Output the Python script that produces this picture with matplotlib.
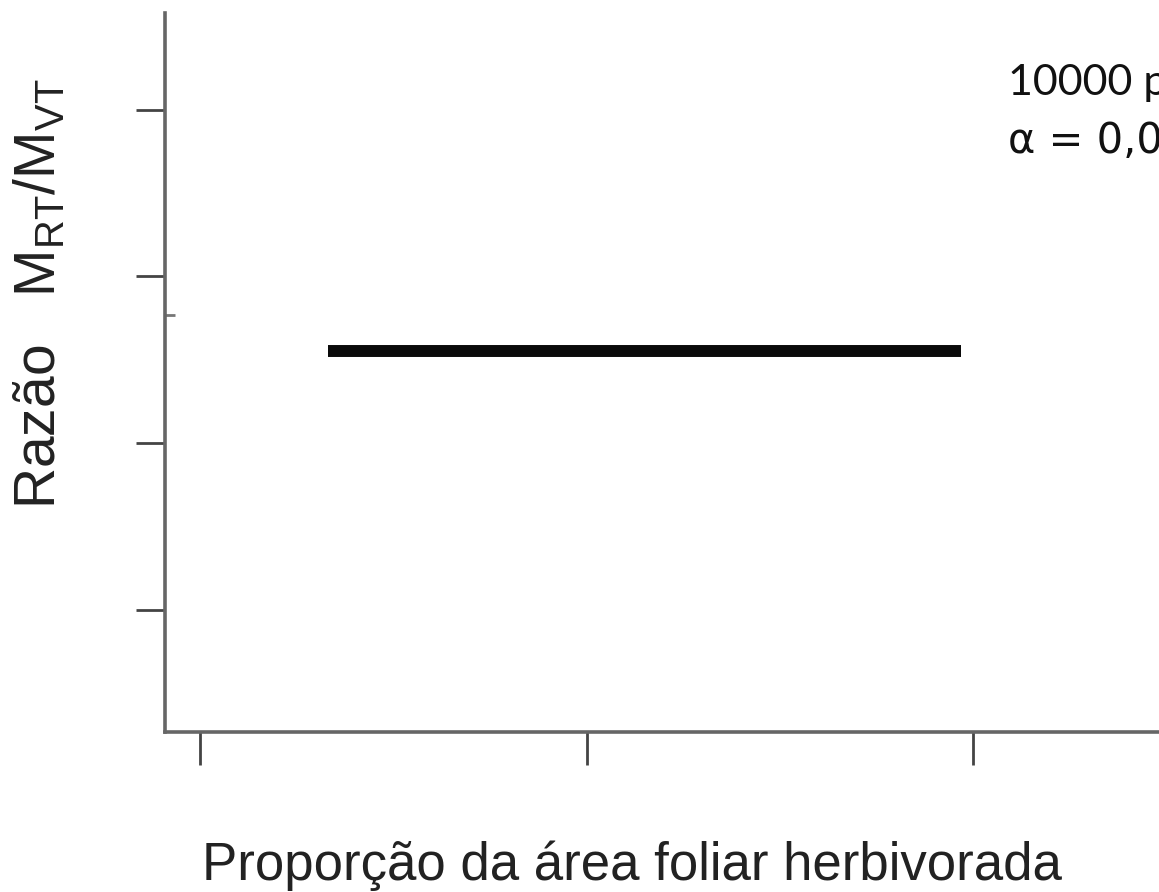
import matplotlib
matplotlib.use("Agg")
import matplotlib.pyplot as plt

plt.rcParams['mathtext.default'] = 'regular'

# Positions on the axis (no numeric labels are drawn)
x_ticks = [0.0, 0.5, 1.0]
y_ticks = [0, 1, 2, 3]
y_minor = [1.77]

# Flat ratio line across the herbivory range
seg_x = [0.165, 0.985]
seg_y = [1.55, 1.55]

W, H = 1159, 892
fig = plt.figure(figsize=(W / 100, H / 100), dpi=100)
ax = fig.add_axes([165 / W, (H - 732) / H, (1205 - 165) / W, (732 - 13) / H])

ax.plot(seg_x, seg_y, color='#0a0a0a', lw=8.6, solid_capstyle='butt')

ax.set_xlim(-0.0453, 1.3)
ax.set_ylim(-0.732, 3.58)
ax.set_xticks(x_ticks)
ax.set_yticks(y_ticks)
ax.set_yticks(y_minor, minor=True)
ax.set_xticklabels([])
ax.set_yticklabels([])
ax.tick_params(axis='x', length=24, width=2, color='#444444', direction='out')
ax.tick_params(axis='y', which='major', length=21, width=2, color='#444444', direction='out')
ax.tick_params(axis='y', which='minor', length=7, width=2, color='#777777', direction='in')

for s in ['top', 'right']:
    ax.spines[s].set_visible(False)
for s in ['left', 'bottom']:
    ax.spines[s].set_color('#666666')
    ax.spines[s].set_linewidth(2.6)

fam = ['Liberation Sans', 'DejaVu Sans']
fig.text(632 / W, 1 - 880 / H, 'Proporção da área foliar herbivorada',
         ha='center', va='baseline', family=fam, fontsize=38, color='#222222')
fig.text(40 / W, 1 - 294 / H, r'Razão   M$_{RT}$/M$_{VT}$',
         rotation=90, ha='center', va='center', family=fam, fontsize=41, color='#222222')

# permutation-test note, runs off the right edge
fig.text(1008 / W, 1 - 95 / H, '10000 permutações', ha='left', va='baseline',
         family=['Lato', 'DejaVu Sans'], fontsize=31, color='#111111')
fig.text(1008 / W, 1 - 153 / H, 'α = 0,05', ha='left', va='baseline',
         family=['DejaVu Sans'], fontsize=30, color='#111111')

fig.savefig('out.png', dpi=100)
